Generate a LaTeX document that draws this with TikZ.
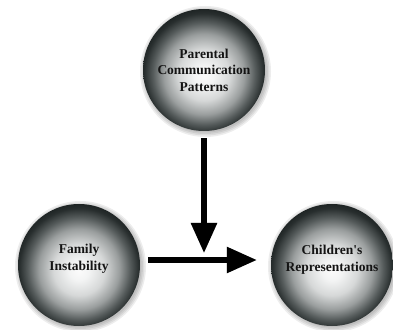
\documentclass[tikz,border=0pt]{standalone}
\usepackage{fontspec}
\setmainfont{Liberation Serif}[Ligatures=TeXOff]
\usetikzlibrary{arrows.meta,calc}
\definecolor{bc0}{HTML}{FBFBFB}
\definecolor{bca}{HTML}{F3F4F4}
\definecolor{bc1}{HTML}{D6D8D8}
\definecolor{bc2}{HTML}{9A9E9E}
\definecolor{bc3}{HTML}{555B5B}
\definecolor{bcb}{HTML}{282E2E}
\definecolor{bc4}{HTML}{1A2020}
\pgfdeclareradialshading{ballshade}{\pgfpoint{0bp}{-2.5bp}}{color(0bp)=(bc0); color(4bp)=(bca); color(10.5bp)=(bc1); color(16.5bp)=(bc2); color(21bp)=(bc3); color(24.5bp)=(bcb); color(27bp)=(bc4); color(50bp)=(bc4)}
\newcommand{\ballshadow}[1]{%
  \foreach \rr in {61,62.5,64,65.5} {\fill[black,opacity=0.07] #1 ++(1.5,-1.5) circle (\rr);}}
\begin{document}
\begin{tikzpicture}[x=1pt,y=1pt,
  ball/.style={circle, minimum size=122pt, inner sep=0pt, shading=ballshade},
  lbl/.style={font=\bfseries\fontsize{13.5}{16.5}\selectfont, align=center, text=black!92},
  arr/.style={line width=5.5pt, -{Triangle[length=30pt,width=25pt]}},
  arrsh/.style={arr, draw=black!22}
]
\useasboundingbox (0,0) rectangle (393,329);
\ballshadow{(204,259)}
\ballshadow{(79,64)}
\ballshadow{(332,64)}
\node[ball] (par) at (204,259) {};
\node[ball] (fam) at (79,64) {};
\node[ball] (chi) at (332,64) {};
\node[lbl] (tpar) at (204,259) {Parental\\Communication\\Patterns};
\node[lbl] (tfam) at (79,70) {Family\\Instability};
\node[lbl] (tchi) at (332,69) {Children's\\Representations};
\coordinate (hs) at ([yshift=5pt]fam.east);
\coordinate (he) at ([yshift=5pt]chi.west);
\coordinate (j) at (par.south |- hs);
\begin{scope}[shift={(2,-2)}]
\draw[arrsh, shorten <=8pt, shorten >=14pt] (hs) -- (he);
\draw[arrsh, shorten <=7pt, shorten >=7pt] (par.south) -- (j);
\end{scope}
\draw[arr, shorten <=8pt, shorten >=14pt] (hs) -- (he);
\draw[arr, shorten <=7pt, shorten >=7pt] (par.south) -- (j);
\end{tikzpicture}
\end{document}
